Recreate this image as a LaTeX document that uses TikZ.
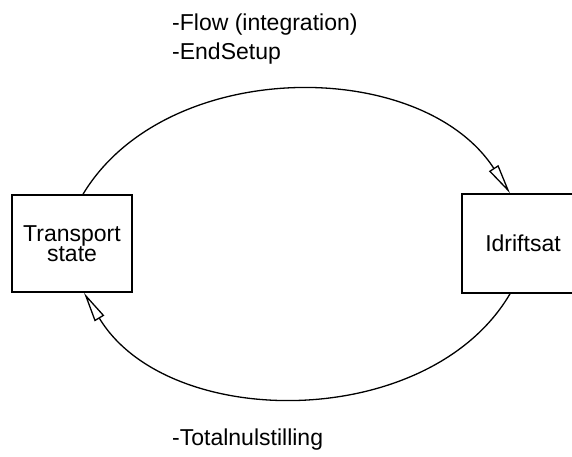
\documentclass[tikz,border=0pt]{standalone}
\usepackage{fontspec}
\setmainfont{Liberation Sans}
\usetikzlibrary{arrows.meta}
\begin{document}
\begin{tikzpicture}[x=1pt,y=-1pt,
  statebox/.style={draw, line width=1.6pt, inner sep=0pt, align=center,
    font=\fontsize{23}{20}\selectfont, fill=white},
  trans/.style={line width=1.3pt, -{Triangle[open, length=30pt, width=11pt, line width=1.3pt]}},
  lbl/.style={anchor=base west, inner sep=0pt, font=\fontsize{23}{28}\selectfont}]
\useasboundingbox (0,0) rectangle (572,456);
\clip (0,0) rectangle (572,456);
\node[statebox, minimum width=120pt, minimum height=97pt] (L) at (72,243.5) {Transport\\state};
\node[statebox, minimum width=122pt, minimum height=99pt] (R) at (523,243.5) {Idriftsat};
\coordinate (Ltop) at ([xshift=11pt]L.north);
\coordinate (Lbot) at ([xshift=12pt]L.south);
\coordinate (Rtop) at ([xshift=-13pt]R.north);
\coordinate (Rbot) at ([xshift=-13pt]R.south);
\draw[trans] (Ltop) .. controls (166,56.5) and (421,56.5) .. (Rtop);
\draw[trans] (Rbot) .. controls (429,431.8) and (168,431.8) .. (Lbot);
\node[lbl] (t1) at (172,30) {-Flow (integration)};
\node[lbl] (t2) at (172,59) {-EndSetup};
\node[lbl] (t3) at (172,445.5) {-Totalnulstilling};
\end{tikzpicture}
\end{document}
